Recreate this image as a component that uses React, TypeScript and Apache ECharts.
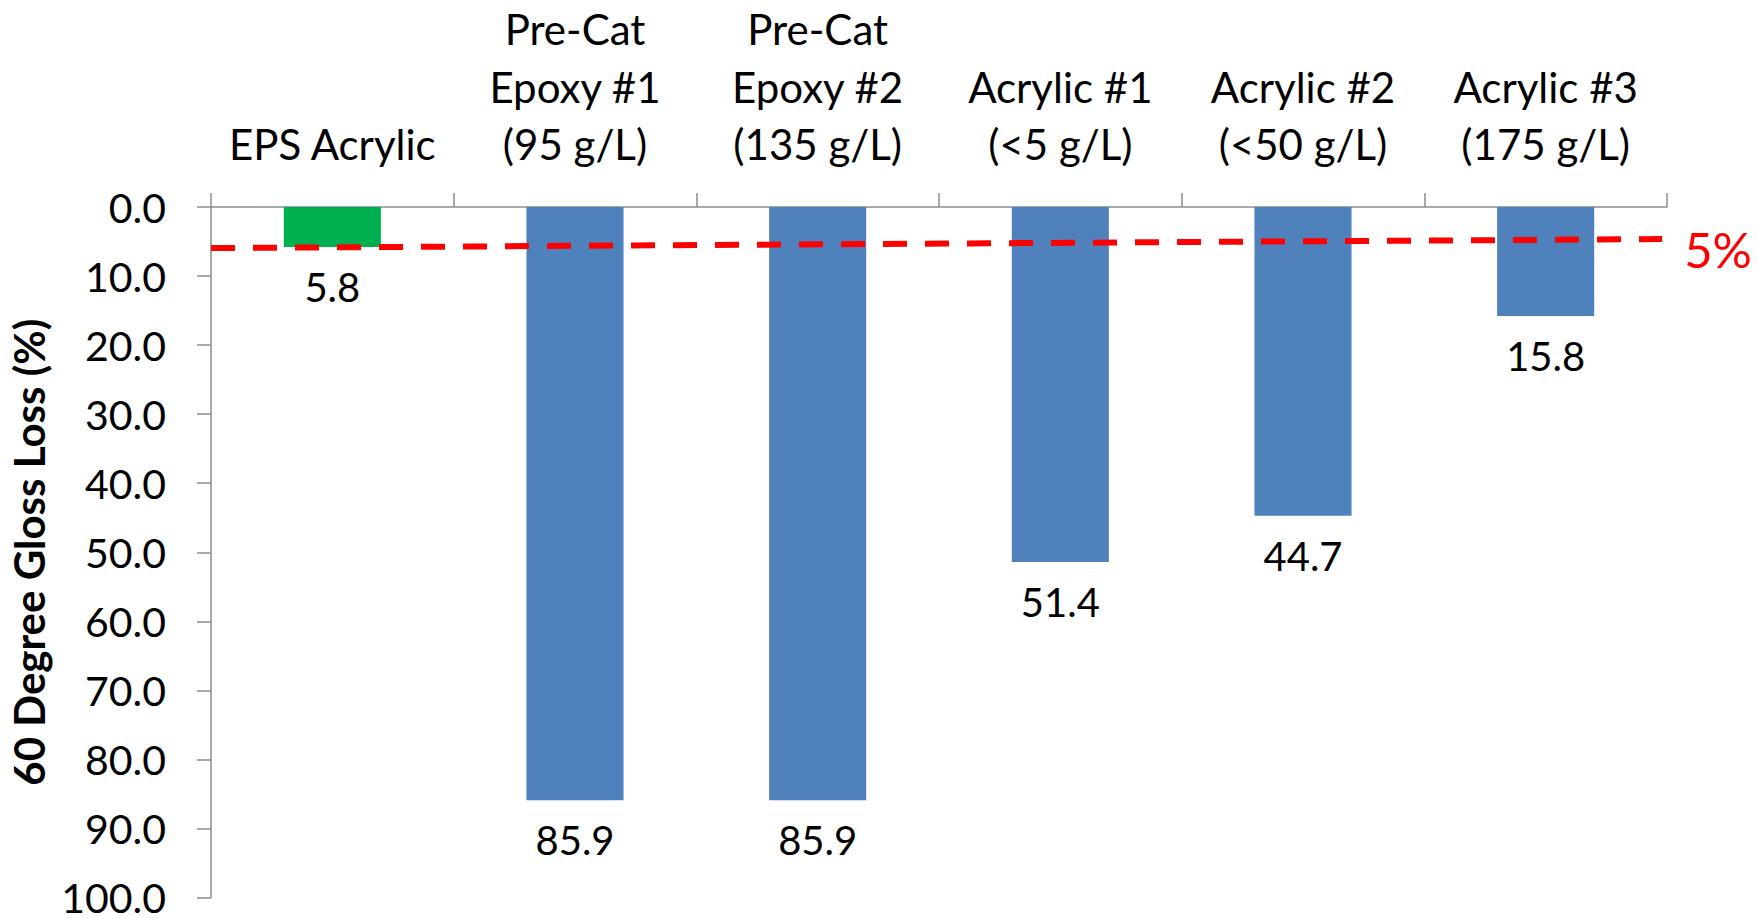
import React, { useEffect, useRef } from "react";
import * as echarts from "echarts";

// Coating systems compared (x axis, drawn along the top)
const categories: string[] = [
  "EPS Acrylic",
  "Pre-Cat\nEpoxy #1\n(95 g/L)",
  "Pre-Cat\nEpoxy #2\n(135 g/L)",
  "Acrylic #1\n(<5 g/L)",
  "Acrylic #2\n(<50 g/L)",
  "Acrylic #3\n(175 g/L)",
];

// 60 degree gloss loss, percent
const glossLoss: number[] = [5.8, 85.9, 85.9, 51.4, 44.7, 15.8];

// Bar colours: the EPS product is highlighted in green
const barColors: string[] = ["#00B050", "#4F81BD", "#4F81BD", "#4F81BD", "#4F81BD", "#4F81BD"];

// Hand-drawn 5% threshold line: [position along categories (0..6), gloss loss]
const thresholdLine: [number, number][] = [
  [0, 5.95],
  [5.98, 4.65],
];
const thresholdLabel = "5%";

// Value axis ticks
const yMin = 0;
const yMax = 100;
const yStep = 10;

const FONT = "Lato, 'Noto Sans', sans-serif";
const AXIS_GRAY = "#8C8C8C";

export default function App() {
  const ref = useRef<HTMLDivElement>(null);

  useEffect(() => {
    if (!ref.current) return;
    const chart = echarts.init(ref.current, undefined, { renderer: "svg" });

    chart.setOption({
      animation: false,
      backgroundColor: "#FFFFFF",
      textStyle: { fontFamily: FONT },
      grid: { left: 211, right: 91, top: 207, bottom: 16, containLabel: false },
      xAxis: [
        {
          type: "category",
          data: categories,
          position: "top",
          boundaryGap: true,
          axisLine: { show: true, lineStyle: { color: AXIS_GRAY, width: 1.5 } },
          axisTick: {
            show: true,
            alignWithLabel: false,
            inside: false,
            length: 14,
            lineStyle: { color: AXIS_GRAY, width: 1.5 },
          },
          axisLabel: {
            interval: 0,
            color: "#000000",
            fontFamily: FONT,
            fontSize: 42,
            lineHeight: 57.5,
            margin: 34,
          },
          splitLine: { show: false },
        },
        {
          type: "value",
          min: 0,
          max: 6,
          show: false,
          position: "top",
        },
      ],
      yAxis: {
        type: "value",
        inverse: true,
        min: yMin,
        max: yMax,
        interval: yStep,
        name: "60 Degree Gloss Loss (%)",
        nameLocation: "middle",
        nameRotate: 90,
        nameGap: 156,
        nameTextStyle: {
          color: "#000000",
          fontFamily: FONT,
          fontWeight: "bold",
          fontSize: 42,
        },
        axisLine: { show: true, lineStyle: { color: AXIS_GRAY, width: 1.5 } },
        axisTick: { show: true, inside: false, length: 14, lineStyle: { color: AXIS_GRAY, width: 1.5 } },
        axisLabel: {
          color: "#000000",
          fontFamily: FONT,
          fontSize: 41,
          lineHeight: 30,
          margin: 45,
          formatter: (v: number) => v.toFixed(1),
        },
        splitLine: { show: false },
      },
      series: [
        {
          type: "bar",
          xAxisIndex: 0,
          yAxisIndex: 0,
          barWidth: "40%",
          data: glossLoss.map((v, i) => ({ value: v, itemStyle: { color: barColors[i] } })),
          label: {
            show: true,
            position: "bottom",
            distance: 20,
            color: "#000000",
            fontFamily: FONT,
            fontSize: 40,
            formatter: (p: any) => Number(p.value).toFixed(1),
          },
          silent: true,
        },
        {
          type: "line",
          xAxisIndex: 1,
          yAxisIndex: 0,
          data: thresholdLine,
          symbol: "none",
          silent: true,
          z: 5,
          lineStyle: { color: "#FF0000", width: 6, type: [24, 18] },
          endLabel: {
            show: true,
            formatter: () => thresholdLabel,
            color: "#FF0000",
            fontFamily: FONT,
            fontSize: 49,
            distance: 22,
            offset: [0, 10],
          },
        },
      ],
    });

    return () => chart.dispose();
  }, []);

  return (
    <div
      ref={ref}
      style={{ position: "fixed", left: 0, top: 0, width: 1758, height: 918, background: "#fff" }}
    />
  );
}
